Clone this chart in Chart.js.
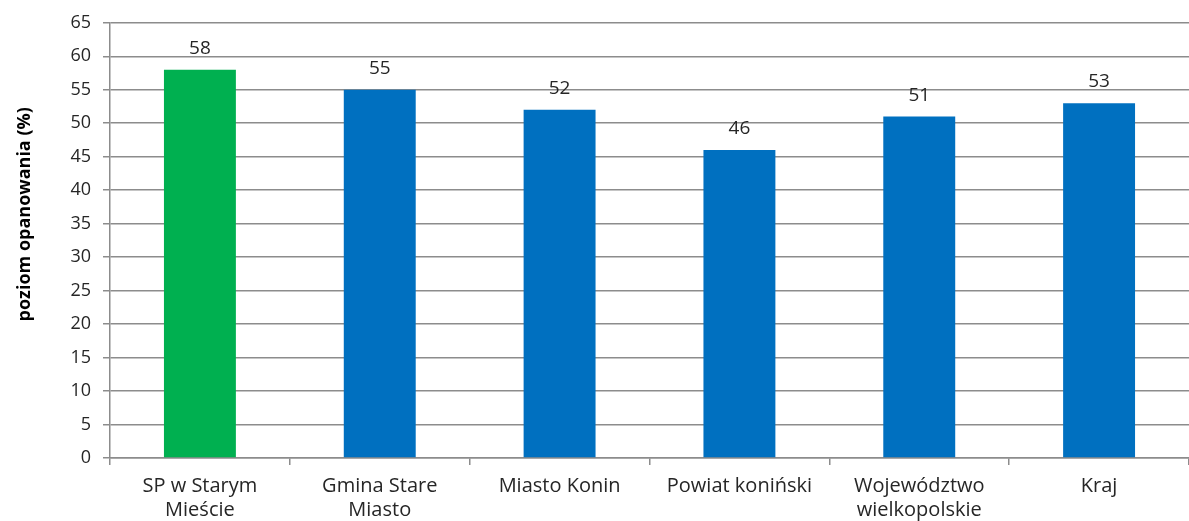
<!DOCTYPE html>
<html>
<head>
<meta charset="utf-8">
<script src="https://cdn.jsdelivr.net/npm/chart.js@4/dist/chart.umd.min.js"></script>
<style>
  html, body { margin: 0; padding: 0; background: #fff; }
  #wrap { width: 1189px; height: 521px; position: relative; }
</style>
</head>
<body>
<div id="wrap"><canvas id="chart"></canvas></div>
<script>
const categories = [['SP w Starym', 'Mieście'], ['Gmina Stare', 'Miasto'], 'Miasto Konin', 'Powiat koniński', ['Województwo', 'wielkopolskie'], 'Kraj'];
const values = [58, 55, 52, 46, 51, 53];
const barColors = ['#00B050', '#0070C0', '#0070C0', '#0070C0', '#0070C0', '#0070C0'];
const yTitle = 'poziom opanowania (%)';

const gridColor = '#8c8c8c';
const fontFamily = '"Open Sans", "Liberation Sans", sans-serif';

// etykiety wartości nad słupkami
const valueLabels = {
    id: 'valueLabels',
    afterDatasetsDraw(chart) {
        const ctx = chart.ctx;
        const meta = chart.getDatasetMeta(0);
        ctx.save();
        ctx.font = '19px ' + fontFamily;
        ctx.fillStyle = '#262626';
        ctx.textAlign = 'center';
        ctx.textBaseline = 'alphabetic';
        meta.data.forEach((bar, i) => {
            ctx.fillText(values[i], bar.x, bar.y - 16);
        });
        ctx.restore();
    }
};

// tytuł osi Y (w oryginale przesunięty wyżej niż środek osi)
const yAxisTitle = {
    id: 'yAxisTitle',
    afterDraw(chart) {
        const ctx = chart.ctx;
        const area = chart.chartArea;
        ctx.save();
        ctx.translate(25, area.top + (area.bottom - area.top) * 0.44);
        ctx.rotate(-Math.PI / 2);
        ctx.font = 'bold 18px ' + fontFamily;
        ctx.fillStyle = '#000';
        ctx.textAlign = 'center';
        ctx.textBaseline = 'middle';
        ctx.fillText(yTitle, 0, 0);
        ctx.restore();
    }
};

new Chart(document.getElementById('chart'), {
    type: 'bar',
    data: {
        labels: categories,
        datasets: [{
            data: values,
            backgroundColor: barColors,
            barPercentage: 0.8,
            categoryPercentage: 0.5
        }]
    },
    options: {
        responsive: true,
        maintainAspectRatio: false,
        animation: false,
        layout: { padding: { top: 18, right: 0, left: 0, bottom: 0 } },
        plugins: { legend: { display: false }, tooltip: { enabled: false } },
        scales: {
            x: {
                grid: { offset: true, drawOnChartArea: false, drawTicks: true, tickLength: 7, color: gridColor, lineWidth: 1.5 },
                border: { color: gridColor, width: 1.5 },
                ticks: { color: '#262626', font: { family: fontFamily, size: 20, lineHeight: 1.2 }, padding: 9, maxRotation: 0, autoSkip: false },
                afterFit(scale) { scale.height = 63; }
            },
            y: {
                min: 0,
                max: 65,
                ticks: { stepSize: 5, color: '#262626', font: { family: fontFamily, size: 18 }, padding: 12 },
                grid: { color: gridColor, lineWidth: 1.5, tickLength: 7 },
                border: { color: gridColor, width: 1.5 },
                afterFit(scale) { scale.width = 110; }
            }
        }
    },
    plugins: [valueLabels, yAxisTitle]
});
</script>
</body>
</html>
